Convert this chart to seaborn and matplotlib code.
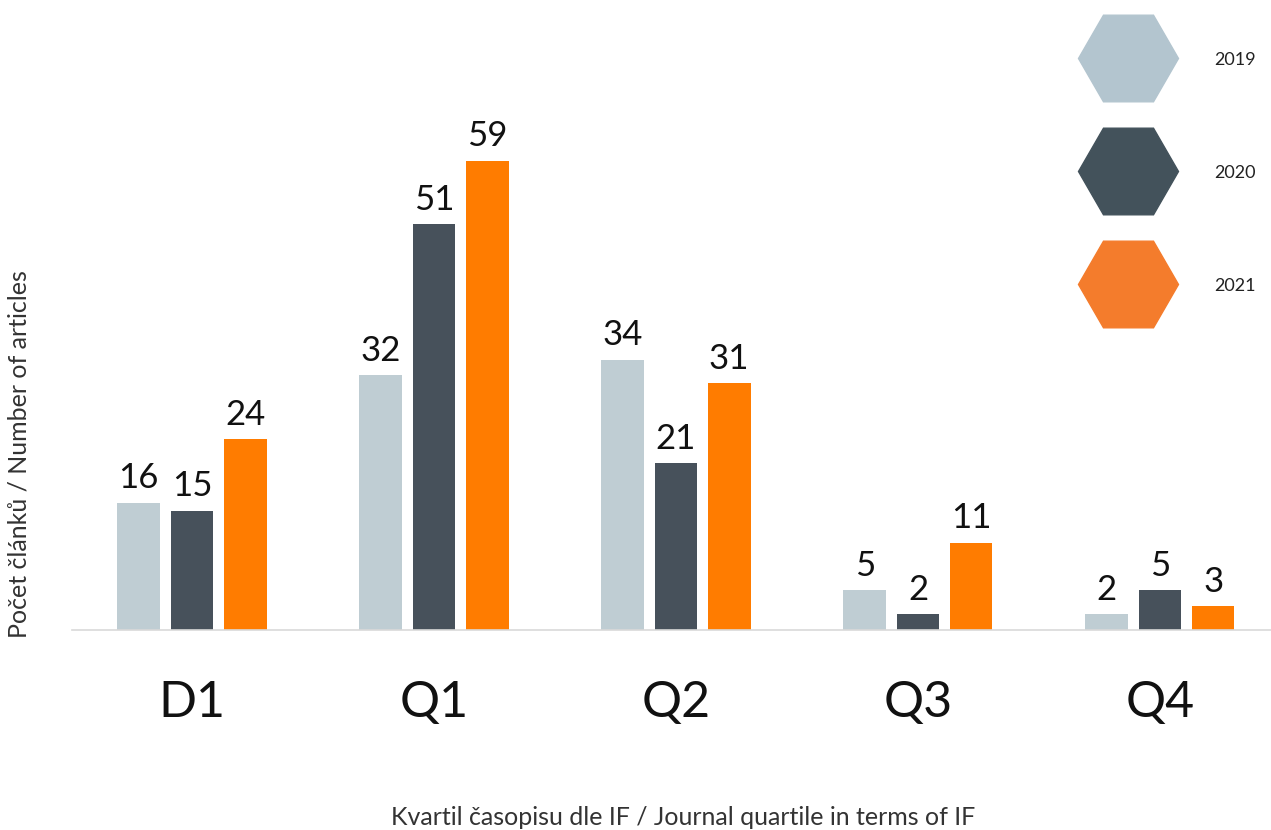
import pandas as pd
import numpy as np
import matplotlib
matplotlib.use("Agg")
import matplotlib.pyplot as plt
import seaborn as sns
from matplotlib.lines import Line2D

# data
quartiles = ["D1", "Q1", "Q2", "Q3", "Q4"]
years = ["2019", "2020", "2021"]
counts_2019 = [16, 32, 34, 5, 2]
counts_2020 = [15, 51, 21, 2, 5]
counts_2021 = [24, 59, 31, 11, 3]

bar_colors = ["#bfcdd3", "#47515b", "#ff7c00"]
legend_colors = ["#b3c5cf", "#43525b", "#f47c2c"]

df = pd.DataFrame({
    "quartile": quartiles * 3,
    "year": [y for y in years for _ in quartiles],
    "count": counts_2019 + counts_2020 + counts_2021,
})

sns.set_theme(style="white")
plt.rcParams["font.family"] = ["Lato", "DejaVu Sans"]

fig = plt.figure(figsize=(12.71, 8.3), dpi=100)
ax = fig.add_axes([72 / 1271, 200 / 830, 1199 / 1271, 630 / 830])

sns.barplot(data=df, x="quartile", y="count", hue="year", order=quartiles,
            hue_order=years, palette=bar_colors, saturation=1, width=0.66,
            gap=0.2, linewidth=0, legend=False, ax=ax)

for cont in ax.containers:
    ax.bar_label(cont, fontsize=25, padding=6, color="#111111")

ax.set_xlim(-0.496, 4.459)
ax.set_ylim(0, 79.2)
ax.set_yticks([])
for s in ["left", "top", "right"]:
    ax.spines[s].set_visible(False)
ax.spines["bottom"].set_color("#d9d9d9")
ax.spines["bottom"].set_linewidth(1.2)
ax.tick_params(axis="x", length=0, labelsize=36, pad=36, colors="#111111")

ax.set_xlabel("Kvartil časopisu dle IF / Journal quartile in terms of IF",
              fontsize=18, color="#333333")
ax.xaxis.set_label_coords(0.51, -0.28)
ax.set_ylabel("Počet článků / Number of articles", fontsize=18, color="#333333")
ax.yaxis.set_label_coords(-0.035, 0.28)

# hexagon legend, top right
handles = [Line2D([], [], marker="H", linestyle="none", markersize=72,
                  markerfacecolor=c, markeredgecolor=c) for c in legend_colors]
fig.legend(handles, years, loc="center", bbox_to_anchor=(0.918, 0.7926),
           frameon=False, fontsize=13, handlelength=5.6, handleheight=1,
           labelspacing=5.3, handletextpad=2.0, labelcolor="#222222")

fig.savefig("out.png", dpi=100)
